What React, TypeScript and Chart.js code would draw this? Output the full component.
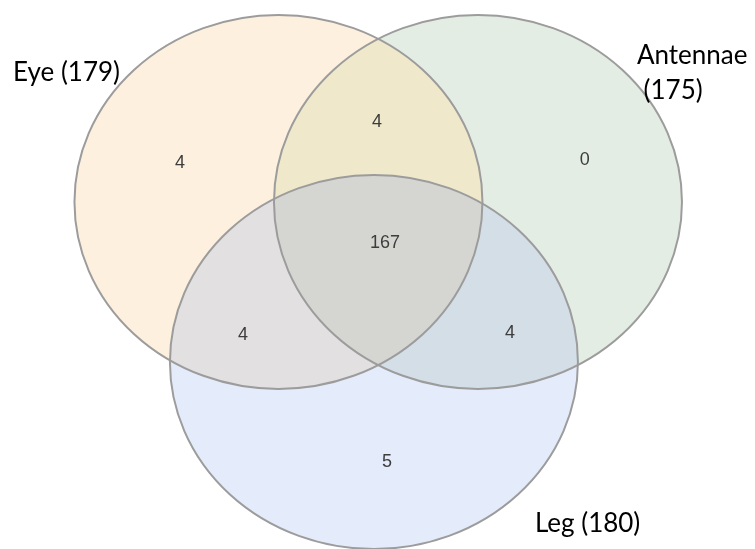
import React, { useEffect, useRef } from "react";
import { Chart, registerables } from "chart.js";

Chart.register(...registerables);

// ---- data ----
const setNames = ["Eye", "Antennae", "Leg"];
const setSizes = [179, 175, 180];
const regionNames = [
  "Eye only",
  "Eye ∩ Antennae",
  "Antennae only",
  "Eye ∩ Antennae ∩ Leg",
  "Eye ∩ Leg",
  "Antennae ∩ Leg",
  "Leg only",
];
const regionCounts = [4, 4, 0, 167, 4, 4, 5];

// ---- layout (data units, circle radius = 1) ----
const circleX = [0, 0.978, 0.468];
const circleY = [0, 0, -0.856];
const circleR = [1, 1, 1];
const regionX = [-0.483, 0.483, 1.502, 0.522, -0.174, 1.135, 0.532];
const regionY = [0.209, 0.428, 0.225, -0.219, -0.711, -0.701, -1.39];
const setLabelX = [-1.301, 1.757, 1.257];
const setLabelY = [0.647, 0.738, -1.765];
const setLabelWrap = [false, true, false];
const xRange = [-1.365, 2.336];
const yRange = [-1.856, 1.08];

// ---- styles ----
const soloColors = ["#FDF0DE", "#E4EDE4", "#E4EBFB"];
const pairs: [number, number, string][] = [
  [0, 1, "#EFE8CB"],
  [0, 2, "#E2E0E0"],
  [1, 2, "#D3DEE6"],
];
const tripleColor = "#D5D6D2";
const strokeColor = "#9C9C9C";

const vennPlugin = {
  id: "venn",
  beforeDatasetsDraw(chart: any) {
    const { ctx, scales } = chart;
    const xs = scales.x;
    const ys = scales.y;
    const ell = (i: number) => {
      const cx = xs.getPixelForValue(circleX[i]);
      const cy = ys.getPixelForValue(circleY[i]);
      const rx = Math.abs(xs.getPixelForValue(circleX[i] + circleR[i]) - cx);
      const ry = Math.abs(ys.getPixelForValue(circleY[i] + circleR[i]) - cy);
      ctx.beginPath();
      ctx.ellipse(cx, cy, rx, ry, 0, 0, Math.PI * 2);
    };
    ctx.save();
    for (let i = 0; i < 3; i++) {
      ell(i);
      ctx.fillStyle = soloColors[i];
      ctx.fill();
    }
    for (const [a, b, col] of pairs) {
      ctx.save();
      ell(a);
      ctx.clip();
      ell(b);
      ctx.fillStyle = col;
      ctx.fill();
      ctx.restore();
    }
    ctx.save();
    ell(0);
    ctx.clip();
    ell(1);
    ctx.clip();
    ell(2);
    ctx.fillStyle = tripleColor;
    ctx.fill();
    ctx.restore();
    for (let i = 0; i < 3; i++) {
      ell(i);
      ctx.strokeStyle = strokeColor;
      ctx.lineWidth = 2;
      ctx.stroke();
    }
    ctx.restore();
  },
  afterDatasetsDraw(chart: any) {
    const { ctx } = chart;
    ctx.save();
    const counts = chart.getDatasetMeta(0).data;
    ctx.font = '18px "Liberation Sans"';
    ctx.fillStyle = "#3d3d3d";
    ctx.textAlign = "center";
    ctx.textBaseline = "middle";
    counts.forEach((pt: any, i: number) => {
      ctx.fillText(String(regionCounts[i]), pt.x, pt.y);
    });
    const labels = chart.getDatasetMeta(1).data;
    ctx.font = "26px Lato";
    ctx.fillStyle = "#000000";
    ctx.textAlign = "left";
    ctx.textBaseline = "alphabetic";
    labels.forEach((pt: any, i: number) => {
      const lines = setLabelWrap[i]
        ? [setNames[i], ` (${setSizes[i]})`]
        : [`${setNames[i]} (${setSizes[i]})`];
      lines.forEach((ln, k) => ctx.fillText(ln, pt.x, pt.y + k * 35));
    });
    ctx.restore();
  },
};

export default function App() {
  const ref = useRef<HTMLCanvasElement | null>(null);
  useEffect(() => {
    if (!ref.current) return;
    const chart = new Chart(ref.current, {
      type: "scatter",
      data: {
        datasets: [
          {
            label: "Regions",
            data: regionX.map((x, i) => ({ x, y: regionY[i] })),
            pointRadius: 0,
          },
          {
            label: "Sets",
            data: setLabelX.map((x, i) => ({ x, y: setLabelY[i] })),
            pointRadius: 0,
          },
        ],
      },
      options: {
        animation: false,
        responsive: true,
        maintainAspectRatio: false,
        events: [],
        layout: { padding: 0 },
        plugins: {
          legend: { display: false },
          tooltip: { enabled: false },
          title: { display: false },
        },
        scales: {
          x: { type: "linear", min: xRange[0], max: xRange[1], display: false },
          y: { type: "linear", min: yRange[0], max: yRange[1], display: false },
        },
      },
      plugins: [vennPlugin],
    });
    return () => chart.destroy();
  }, []);
  return (
    <div
      style={{
        position: "fixed",
        left: 0,
        top: 0,
        width: 755,
        height: 549,
        background: "#ffffff",
      }}
    >
      <canvas ref={ref} aria-label={regionNames.join(", ")} />
    </div>
  );
}
